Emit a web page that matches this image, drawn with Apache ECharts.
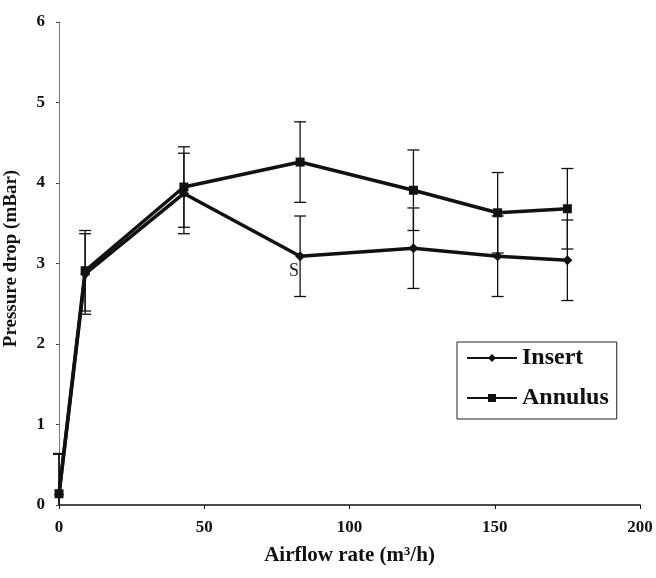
<!DOCTYPE html>
<html>
<head>
<meta charset="utf-8">
<script src="https://cdn.jsdelivr.net/npm/echarts@6/dist/echarts.min.js"></script>
<style>
html,body{margin:0;padding:0;background:#fff;}
#chart{width:656px;height:578px;}
</style>
</head>
<body>
<div id="chart"></div>
<script>
const flowRates = [0, 9, 43, 83, 122, 151, 175];
const insertDrop = [0.13, 2.87, 3.87, 3.09, 3.19, 3.09, 3.04];
const annulusDrop = [0.14, 2.91, 3.95, 4.26, 3.91, 3.63, 3.68];
const insertErr = [0.5, 0.5, 0.5, 0.5, 0.5, 0.5, 0.5];
const annulusErr = [0.5, 0.5, 0.5, 0.5, 0.5, 0.5, 0.5];
const xTicks = [0, 50, 100, 150, 200];
const yTicks = [0, 1, 2, 3, 4, 5, 6];

const FONT = '"Liberation Serif", "DejaVu Serif", serif';

function pairs(xs, ys) { return xs.map((x, i) => [x, ys[i]]); }
function errData(xs, ys, es) { return xs.map((x, i) => [x, ys[i] - es[i], ys[i] + es[i]]); }

function errRender(params, api) {
  const x = api.value(0);
  const lo = api.coord([x, api.value(1)]);
  const hi = api.coord([x, api.value(2)]);
  const cs = params.coordSys;
  const bottom = cs.y + cs.height;
  const clipped = lo[1] > bottom;
  const loY = clipped ? bottom : lo[1];
  const hw = 6;
  const st = { stroke: '#111', lineWidth: 1.3 };
  const children = [
    { type: 'line', shape: { x1: lo[0], y1: loY, x2: hi[0], y2: hi[1] }, style: st },
    { type: 'line', shape: { x1: hi[0] - hw, y1: hi[1], x2: hi[0] + hw, y2: hi[1] }, style: st }
  ];
  if (!clipped) {
    children.push({ type: 'line', shape: { x1: lo[0] - hw, y1: lo[1], x2: lo[0] + hw, y2: lo[1] }, style: st });
  }
  return { type: 'group', children };
}

const chart = echarts.init(document.getElementById('chart'));
chart.setOption({
  backgroundColor: '#fff',
  animation: false,
  grid: { left: 59, right: 16, top: 22, bottom: 73, containLabel: false, outerBoundsMode: 'none' },
  xAxis: {
    type: 'value', min: 0, max: 200, interval: 50,
    name: 'Airflow rate (m³/h)', nameLocation: 'middle', nameGap: 40,
    nameTextStyle: { fontFamily: FONT, fontWeight: 'bold', fontSize: 21, color: '#111' },
    axisLine: { lineStyle: { color: '#111', width: 1.5 } },
    axisTick: { show: true, length: 4, lineStyle: { color: '#111' } },
    axisLabel: { fontFamily: FONT, fontWeight: 'bold', fontSize: 17, color: '#111', margin: 14,
      formatter: v => xTicks.includes(v) ? String(v) : '' },
    splitLine: { show: false }
  },
  yAxis: {
    type: 'value', min: 0, max: 6, interval: 1,
    name: 'Pressure drop (mBar)', nameLocation: 'middle', nameGap: 38,
    nameTextStyle: { fontFamily: FONT, fontWeight: 'bold', fontSize: 19, color: '#111', padding: [0, 0, 0, 10] },
    axisLine: { show: true, lineStyle: { color: '#777', width: 1 } },
    axisTick: { show: true, length: 3, lineStyle: { color: '#444' } },
    axisLabel: { fontFamily: FONT, fontWeight: 'bold', fontSize: 17, color: '#111', margin: 14,
      formatter: v => yTicks.includes(v) ? String(v) : '' },
    splitLine: { show: false }
  },
  legend: {
    left: 457, top: 342,
    orient: 'vertical',
    padding: [4, 8, 9, 9],
    borderColor: '#222', borderWidth: 1, borderRadius: 0,
    itemWidth: 50, itemHeight: 10, itemGap: 16,
    textStyle: { fontFamily: FONT, fontWeight: 'bold', fontSize: 24, color: '#111' },
    data: ['Insert', 'Annulus']
  },
  series: [
    {
      name: 'Insert', type: 'line', data: pairs(flowRates, insertDrop),
      symbol: 'diamond', symbolSize: 10,
      lineStyle: { color: '#111', width: 3.5 }, itemStyle: { color: '#111' }, z: 3
    },
    {
      name: 'Annulus', type: 'line', data: pairs(flowRates, annulusDrop),
      symbol: 'rect', symbolSize: 9,
      lineStyle: { color: '#111', width: 3.5 }, itemStyle: { color: '#111' }, z: 3
    },
    {
      name: 'InsertErr', type: 'custom', renderItem: errRender,
      data: errData(flowRates, insertDrop, insertErr), z: 2, silent: true
    },
    {
      name: 'AnnulusErr', type: 'custom', renderItem: errRender,
      data: errData(flowRates, annulusDrop, annulusErr), z: 2, silent: true
    }
  ],
  graphic: [
    { type: 'text', left: 289, top: 262, style: { text: 'S', font: '18px ' + FONT, fill: '#222' } }
  ]
});
</script>
</body>
</html>
